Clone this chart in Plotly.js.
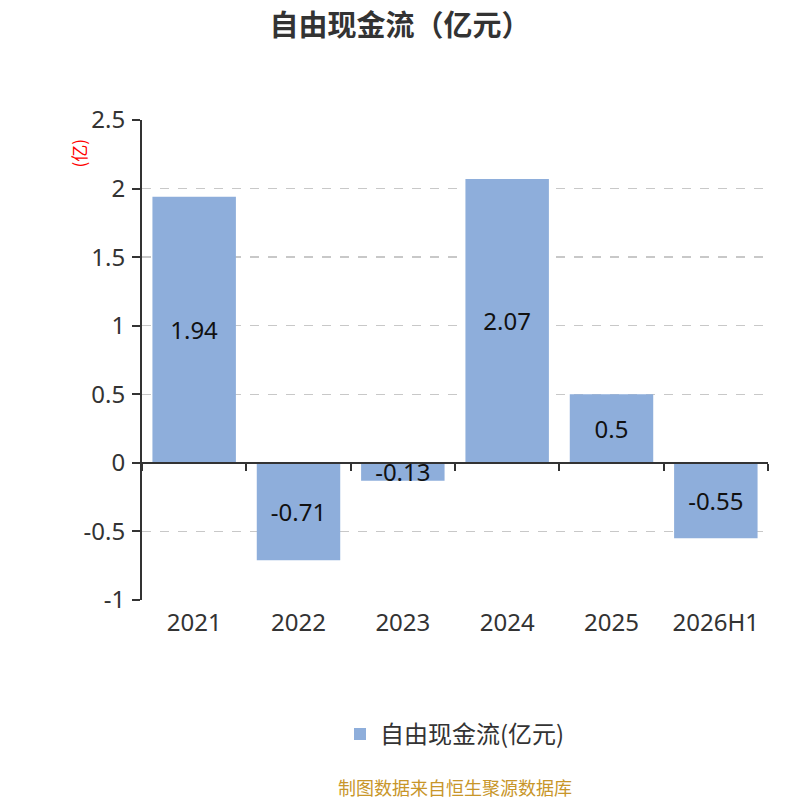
<!DOCTYPE html>
<html>
<head>
<meta charset="utf-8">
<script src="https://cdn.plot.ly/plotly-3.0.1.min.js"></script>
<style>
  body { margin: 0; background: #fff; }
  #chart { width: 800px; height: 800px; }
</style>
</head>
<body>
<div id="chart"></div>
<script>
// 自由现金流 data
const years = ['2021', '2022', '2023', '2024', '2025', '2026H1'];
const fcf = [1.94, -0.71, -0.13, 2.07, 0.5, -0.55];
const seriesName = '自由现金流(亿元)';
const yTicks = [-1, -0.5, 0, 0.5, 1, 1.5, 2, 2.5];

const yMin = -1, yMax = 2.5;
const font = '"Noto Sans", "Noto Sans CJK SC", sans-serif';
const cjk = '"Noto Sans CJK SC", "Noto Sans", sans-serif';

const trace = {
    type: 'bar',
    x: years,
    y: fcf,
    name: seriesName,
    text: fcf.map(v => String(v)),
    textposition: 'inside',
    insidetextanchor: 'middle',
    constraintext: 'none',
    textfont: { size: 24, color: '#111', family: font },
    marker: { color: '#8eaedb' },
    hoverinfo: 'x+y'
};

// empty trace so the zero-line axis (x2) gets drawn
const zeroAxis = {
    type: 'scatter',
    x: [],
    y: [],
    xaxis: 'x2',
    yaxis: 'y',
    showlegend: false,
    hoverinfo: 'skip'
};

const layout = {
    width: 800,
    height: 800,
    margin: { l: 142, r: 32, t: 120, b: 200 },
    paper_bgcolor: '#fff',
    plot_bgcolor: '#fff',
    font: { family: font, color: '#333' },
    title: {
        text: '<b>自由现金流（亿元）</b>',
        font: { size: 29, color: '#333', family: cjk },
        x: 0.5, xanchor: 'center',
        y: 0.968, yanchor: 'middle'
    },
    bargap: 0.2,
    showlegend: true,
    legend: {
        orientation: 'h',
        x: 0.5, xanchor: 'center',
        y: -0.28, yanchor: 'middle',
        font: { size: 24, color: '#333', family: cjk }
    },
    xaxis: {
        type: 'category',
        showline: false,
        showgrid: false,
        zeroline: false,
        ticks: '',
        tickfont: { size: 24, color: '#333' },
        ticklabelstandoff: 6
    },
    xaxis2: {
        overlaying: 'x',
        anchor: 'free',
        position: (0 - yMin) / (yMax - yMin),
        range: [-0.5, years.length - 0.5],
        tickvals: years.map((_, i) => i - 0.5).concat([years.length - 0.5]),
        showticklabels: false,
        showline: true,
        linecolor: '#333',
        linewidth: 2,
        ticks: 'outside',
        ticklen: 7,
        tickwidth: 2,
        tickcolor: '#333',
        showgrid: false,
        zeroline: false,
        fixedrange: true
    },
    yaxis: {
        range: [yMin, yMax],
        tickvals: yTicks,
        ticktext: yTicks.map(v => String(v)),
        showline: true,
        linecolor: '#333',
        linewidth: 2,
        ticks: 'outside',
        ticklen: 8,
        tickwidth: 2,
        tickcolor: '#333',
        tickfont: { size: 24, color: '#333' },
        ticklabelstandoff: 2,
        showgrid: true,
        gridcolor: '#c8c8c8',
        griddash: 'dash',
        gridwidth: 1.5,
        zeroline: false
    },
    annotations: [
        {
            text: '(亿)',
            xref: 'paper', yref: 'paper',
            x: -0.125, y: 0.965,
            textangle: -90,
            showarrow: false,
            font: { size: 17, color: '#f00', family: cjk }
        },
        {
            text: '制图数据来自恒生聚源数据库',
            xref: 'paper', yref: 'paper',
            x: 0.5, y: -0.39,
            xanchor: 'center', yanchor: 'middle',
            showarrow: false,
            font: { size: 18, color: '#c8962a', family: cjk }
        }
    ]
};

Plotly.newPlot('chart', [trace, zeroAxis], layout, { displayModeBar: false, staticPlot: true });
</script>
</body>
</html>
